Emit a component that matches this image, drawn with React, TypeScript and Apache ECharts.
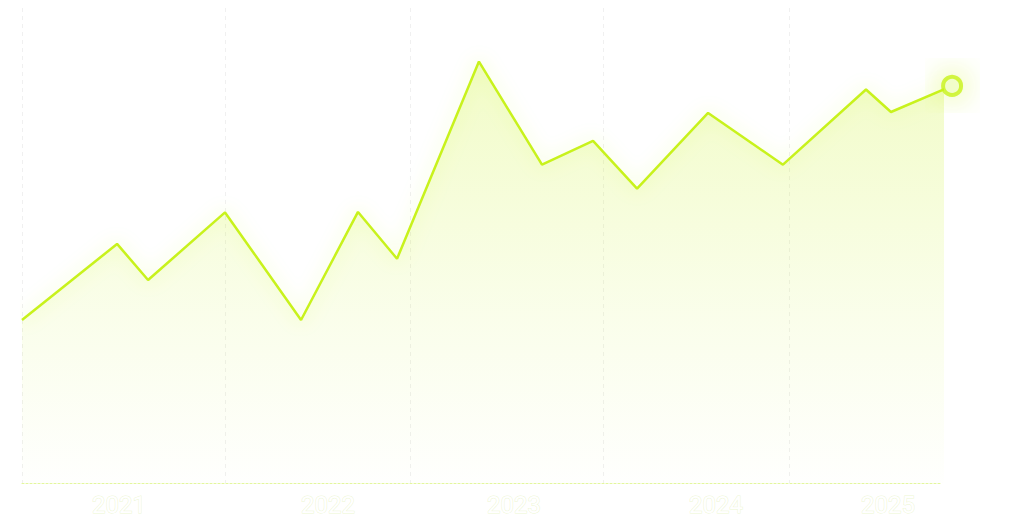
import { useEffect, useRef } from 'react'
import * as echarts from 'echarts'

// x in months since Jan 2021, y in index points
const pointX = [0, 5.94, 7.88, 12.69, 17.44, 21.0, 23.44, 28.56, 32.5, 35.69, 38.44, 42.88, 47.56, 52.75, 54.31, 58.13]
const pointY = [36.2, 53.1, 45.1, 60.1, 36.2, 60.2, 49.8, 93.6, 70.7, 76.0, 65.4, 82.2, 70.7, 87.4, 82.4, 88.2]

// year boundaries and label positions on the same month scale
const yearStarts = [0, 12.69, 24.25, 36.31, 47.94]
const yearMids = [6.06, 19.13, 30.75, 43.38, 54.13]
const yearLabels = ['2021', '2022', '2023', '2024', '2025']

const LIME = '#c8f21c'

export default function App() {
  const ref = useRef<HTMLDivElement>(null)

  useEffect(() => {
    if (!ref.current) return
    const chart = echarts.init(ref.current, null, { renderer: 'svg' })

    const lineData = pointX.map((x, i) => [x, pointY[i]])
    const last = lineData[lineData.length - 1]

    chart.setOption({
      animation: false,
      backgroundColor: '#ffffff',
      grid: { left: 22, right: 82, top: 8, bottom: 42 },
      xAxis: {
        type: 'value',
        min: 0,
        max: 57.5,
        axisLine: {
          show: true,
          lineStyle: { color: 'rgba(200,240,60,0.5)', width: 1, type: [2, 2] },
        },
        axisTick: { show: false, customValues: yearStarts },
        splitLine: {
          show: true,
          lineStyle: { color: 'rgba(0,0,0,0.06)', type: [4, 4], width: 1 },
        },
        axisLabel: {
          customValues: yearMids,
          formatter: (v: number) => yearLabels[yearMids.indexOf(v)] ?? '',
          color: '#ffffff',
          fontFamily: 'Roboto',
          fontSize: 24,
          margin: 10,
          textBorderColor: 'rgba(200,230,120,0.35)',
          textBorderWidth: 1,
        },
      },
      yAxis: {
        type: 'value',
        min: 0,
        max: 105.5,
        show: false,
        splitLine: { show: false },
      },
      series: [
        {
          type: 'line',
          data: lineData,
          symbol: 'none',
          clip: true,
          lineStyle: {
            color: LIME,
            width: 2.5,
            shadowColor: 'rgba(200,242,28,0.35)',
            shadowBlur: 18,
          },
          areaStyle: {
            color: new echarts.graphic.LinearGradient(0, 0, 0, 1, [
              { offset: 0, color: 'rgba(200,242,28,0.35)' },
              { offset: 0.6, color: 'rgba(200,242,28,0.13)' },
              { offset: 1, color: 'rgba(200,242,28,0.01)' },
            ]),
          },
        },
        {
          type: 'scatter',
          data: [last],
          clip: false,
          symbol: 'circle',
          symbolSize: 18,
          itemStyle: {
            color: 'rgba(235,252,170,0.6)',
            borderColor: LIME,
            borderWidth: 4,
            shadowColor: 'rgba(200,242,28,0.9)',
            shadowBlur: 30,
          },
          z: 5,
        },
      ],
    })

    return () => chart.dispose()
  }, [])

  return (
    <div
      ref={ref}
      style={{ position: 'fixed', left: 0, top: 0, width: 1024, height: 525 }}
    />
  )
}
